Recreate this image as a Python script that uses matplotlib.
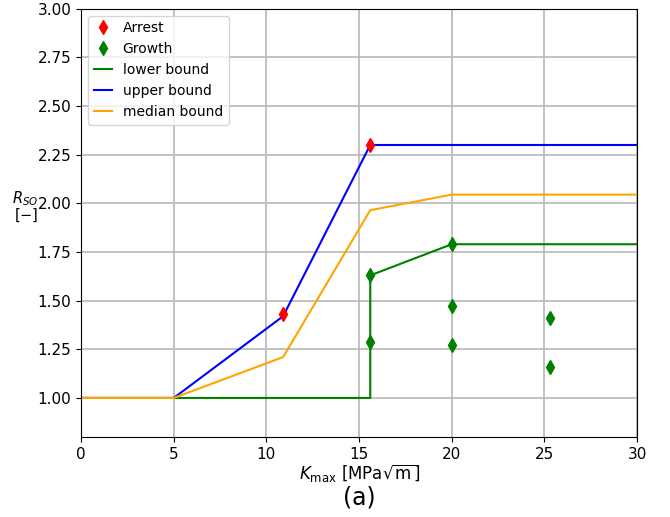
import numpy as np
import matplotlib.pyplot as plt

# Measured points
arrest_k = [10.9, 15.6]
arrest_r = [1.43, 2.30]
growth_k = [15.6, 15.6, 20.0, 20.0, 20.0, 25.3, 25.3]
growth_r = [1.63, 1.29, 1.79, 1.47, 1.27, 1.41, 1.16]

# Bounds
lower_k = [0, 5, 15.6, 15.6, 20.0, 30]
lower_r = [1.0, 1.0, 1.0, 1.63, 1.79, 1.79]
upper_k = [0, 5, 10.9, 15.6, 30]
upper_r = [1.0, 1.0, 1.42, 2.30, 2.30]
median_k = [0, 5, 10.9, 15.6, 20.0, 30]
median_r = [1.0, 1.0, 1.21, 1.965, 2.045, 2.045]

plt.rcParams['font.size'] = 11
fig = plt.figure(figsize=(6.7, 5.17), dpi=100)
ax = fig.add_axes([0.121, 0.155, 0.830, 0.828])

ax.plot(arrest_k, arrest_r, 'd', color='red', markersize=7, label='Arrest', zorder=4)
ax.plot(growth_k, growth_r, 'd', color='green', markersize=7, label='Growth', zorder=4)
ax.plot(lower_k, lower_r, color='green', lw=1.5, label='lower bound')
ax.plot(upper_k, upper_r, color='blue', lw=1.5, label='upper bound')
ax.plot(median_k, median_r, color='orange', lw=1.5, label='median bound')

ax.set_xlim(0, 30)
ax.set_ylim(0.8, 3.0)
ax.set_yticks(np.arange(1.0, 3.01, 0.25))
ax.yaxis.set_major_formatter(plt.FormatStrFormatter('%.2f'))
ax.grid(True, color='#b8b8b8', lw=1.2)
ax.set_axisbelow(True)

ax.set_xlabel(r'$K_\mathrm{max}$ [MPa$\sqrt{\mathrm{m}}$]', fontsize=12, labelpad=0)
ax.set_ylabel('$R_{SO}$\n$[-]$', rotation=0, fontsize=10.5, va='center', ha='right',
              linespacing=0.9)
ax.yaxis.set_label_coords(-0.076, 0.537)
ax.legend(loc='upper left', fontsize=10, handlelength=1.3)
fig.text(0.536, 0.025, '(a)', ha='center', fontsize=17)

fig.savefig('out.png', dpi=100)
